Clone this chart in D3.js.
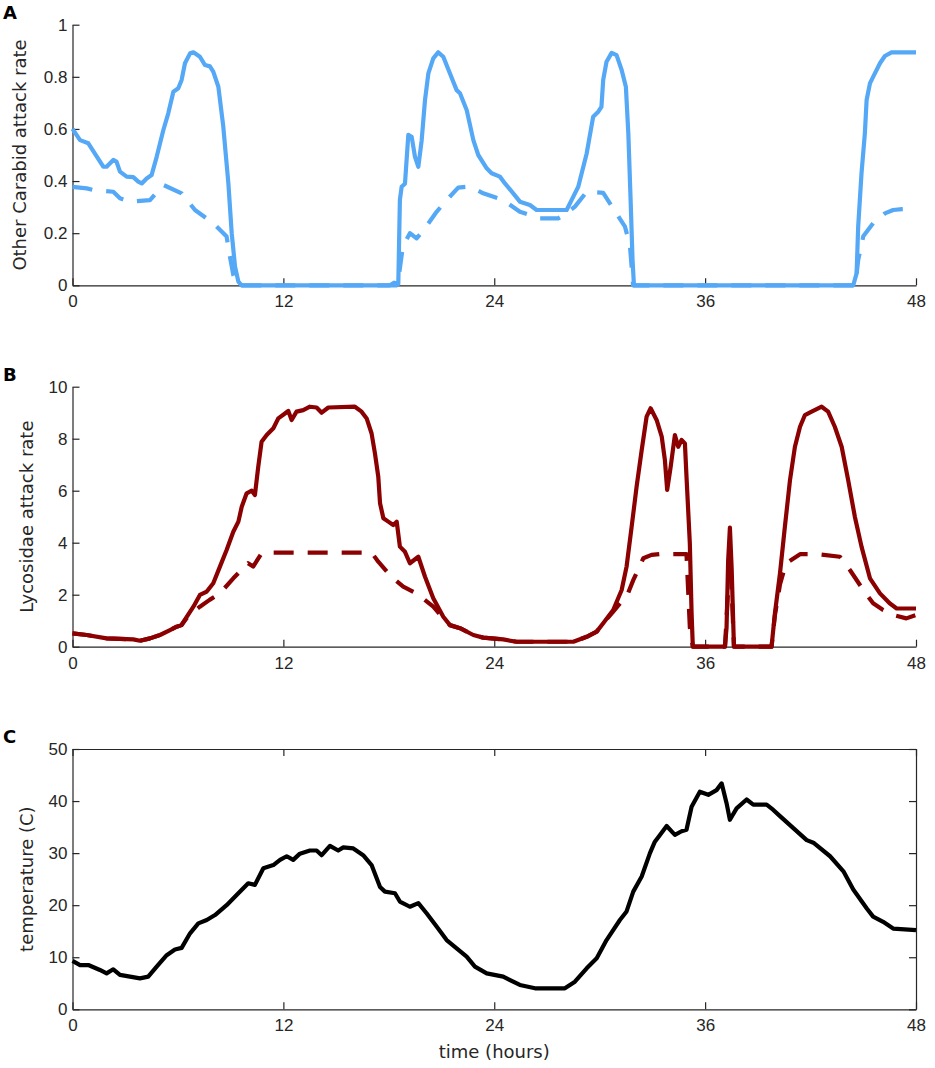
<!DOCTYPE html>
<html>
<head>
<meta charset="utf-8">
<script src="https://cdn.jsdelivr.net/npm/d3@7"></script>
<style>
  body { margin: 0; background: #fff; }
  svg { font-family: "DejaVu Sans", sans-serif; }
</style>
</head>
<body>
<svg id="chart" width="935" height="1068"></svg>
<script>
// time axis (hours)
const hourTicks = [0, 12, 24, 36, 48];

// Panel A: other Carabid attack rate, [hour, rate]
const carabidSolid = [
  [0,0.60],[0.43,0.557],[0.9,0.545],[1.75,0.455],[1.94,0.455],[2.32,0.481],[2.5,0.475],[2.7,0.436],
  [3.08,0.417],[3.46,0.415],[3.74,0.398],[3.94,0.391],[4.22,0.41],[4.5,0.423],[4.79,0.493],[5.17,0.596],
  [5.45,0.66],[5.74,0.743],[6.02,0.756],[6.21,0.788],[6.4,0.852],[6.69,0.89],[6.88,0.894],[7.25,0.877],
  [7.54,0.845],[7.82,0.84],[8.01,0.82],[8.3,0.762],[8.58,0.609],[8.87,0.391],[9.06,0.2],[9.25,0.071],
  [9.44,0.014],[9.62,0],[18.06,0],[18.3,0.01],[18.54,0.005],[18.63,0.327],[18.73,0.378],[18.92,0.39],
  [19.11,0.577],[19.3,0.57],[19.49,0.493],[19.68,0.455],[19.87,0.557],[20.06,0.711],[20.25,0.813],
  [20.53,0.871],[20.81,0.894],[21.1,0.877],[21.48,0.813],[21.86,0.749],[22.05,0.737],[22.43,0.673],
  [22.81,0.557],[23.09,0.5],[23.57,0.449],[23.85,0.43],[24.32,0.417],[24.61,0.391],[25.08,0.353],
  [25.46,0.321],[26.03,0.308],[26.41,0.289],[28.12,0.289],[28.4,0.327],[28.78,0.378],[29.26,0.506],
  [29.63,0.647],[29.92,0.666],[30.1,0.685],[30.2,0.788],[30.39,0.858],[30.68,0.892],[30.96,0.883],
  [31.25,0.826],[31.49,0.762],[31.63,0.583],[31.76,0.327],[31.87,0.097],[31.95,0],[44.43,0],
  [44.62,0.046],[44.71,0.225],[44.9,0.43],[45.09,0.583],[45.19,0.711],[45.38,0.775],[45.56,0.8],
  [45.95,0.852],[46.23,0.88],[46.61,0.894],[48,0.894]
];
const carabidDashed = [
  [0,0.378],[0.81,0.372],[1.18,0.366],[2.32,0.359],[2.7,0.334],[3.27,0.321],[4.41,0.327],[5.17,0.385],
  [6.21,0.353],[6.97,0.289],[8.01,0.238],[8.77,0.187],[8.96,0.11],[9.15,0.04],[9.4,0],[18.5,0],
  [18.8,0.15],[19.2,0.2],[19.58,0.18],[19.96,0.21],[20.72,0.282],[21.29,0.327],[21.95,0.375],
  [22.43,0.378],[22.81,0.372],[23.37,0.353],[24.51,0.327],[25.46,0.282],[26.6,0.257],[27.64,0.257],
  [28.12,0.276],[28.59,0.302],[29.26,0.359],[30.2,0.355],[30.77,0.295],[31.44,0.225],[31.72,0.154],
  [31.9,0],[44.55,0],[44.71,0.097],[45.0,0.188],[45.56,0.238],[46.23,0.276],[46.7,0.289],[47.2,0.292],
  [48,0.295]
];

// Panel B: Lycosidae attack rate, [hour, rate]
const lycosidSolid = [
  [0,0.51],[0.81,0.45],[1.94,0.32],[3.46,0.28],[3.84,0.23],[4.41,0.32],[4.98,0.45],[5.55,0.64],
  [5.93,0.77],[6.2,0.83],[6.5,1.15],[6.88,1.54],[7.25,1.99],[7.64,2.12],[8.01,2.44],[8.39,3.08],
  [8.77,3.72],[9.15,4.42],[9.44,4.81],[9.63,5.38],[9.91,5.9],[10.2,6.0],[10.38,5.83],[10.57,6.92],
  [10.76,7.88],[11.05,8.14],[11.43,8.4],[11.71,8.78],[12.09,8.97],[12.28,9.07],[12.47,8.72],
  [12.75,9.04],[13.13,9.1],[13.51,9.23],[13.89,9.2],[14.18,9.0],[14.56,9.2],[16.07,9.23],[16.45,9.04],
  [16.74,8.78],[17.02,8.2],[17.21,7.44],[17.4,6.54],[17.5,5.52],[17.69,4.94],[17.97,4.81],[18.25,4.68],
  [18.45,4.81],[18.63,3.85],[18.92,3.65],[19.2,3.21],[19.68,3.46],[20.06,2.69],[20.53,1.86],[21.1,1.15],
  [21.48,0.83],[22.05,0.71],[22.81,0.45],[23.37,0.35],[24.51,0.28],[25.27,0.19],[28.5,0.19],
  [29.26,0.38],[29.83,0.58],[30.2,0.9],[30.77,1.41],[31.25,2.18],[31.53,3.08],[31.82,4.62],
  [32.1,6.15],[32.39,7.56],[32.67,8.85],[32.9,9.17],[33.24,8.72],[33.53,8.08],[33.71,7.18],
  [33.84,6.03],[34.04,6.92],[34.28,8.14],[34.47,7.69],[34.66,7.95],[34.85,7.82],[34.94,6.54],
  [35.13,3.97],[35.23,1.28],[35.3,0],[37.13,0],[37.22,0.74],[37.31,3.3],[37.41,4.58],[37.51,3.0],
  [37.64,0],[39.78,0],[39.97,1.28],[40.26,2.82],[40.54,4.62],[40.83,6.41],[41.11,7.69],[41.4,8.46],
  [41.68,8.91],[42.06,9.04],[42.63,9.23],[43.0,9.04],[43.38,8.46],[43.77,7.69],[44.14,6.41],[44.52,5.0],
  [44.9,3.85],[45.38,2.63],[45.95,2.05],[46.5,1.67],[46.9,1.47],[48,1.47]
];
const lycosidDashed = [
  [0,0.51],[0.81,0.45],[1.94,0.32],[3.46,0.28],[3.84,0.23],[4.41,0.32],[4.98,0.45],[5.55,0.64],
  [5.93,0.77],[6.2,0.83],[6.5,1.1],[6.88,1.35],[7.25,1.54],[7.8,1.8],[8.39,2.05],[9.15,2.63],
  [9.99,3.21],[10.28,3.08],[10.76,3.59],[11.2,3.62],[17.02,3.62],[17.4,3.27],[18.15,2.69],[18.82,2.31],
  [19.58,2.05],[20.53,1.54],[21.1,1.1],[21.48,0.83],[22.05,0.71],[22.81,0.45],[23.37,0.35],[24.51,0.28],
  [25.27,0.19],[28.5,0.19],[29.26,0.38],[29.83,0.58],[30.2,0.9],[30.77,1.35],[31.2,1.7],[31.53,1.92],
  [31.91,2.56],[32.48,3.4],[32.95,3.53],[33.4,3.56],[34.94,3.56],[35.13,0.74],[35.3,0],[37.13,0],
  [37.31,2.2],[37.41,3.4],[37.51,2.2],[37.64,0],[39.78,0],[39.97,1.2],[40.26,2.4],[40.6,3.2],
  [41.4,3.56],[42.35,3.56],[43.67,3.46],[44.24,2.95],[45.0,2.18],[45.56,1.67],[46.13,1.41],[46.7,1.22],
  [47.45,1.09],[48,1.22]
];

// Panel C: temperature (C), [hour, temp]
const temperature = [
  [0,9.3],[0.43,8.5],[0.9,8.5],[1.56,7.55],[1.94,6.9],[2.32,7.68],[2.7,6.6],[3.27,6.27],[3.84,5.95],
  [4.31,6.27],[4.79,8.2],[5.36,10.4],[5.83,11.5],[6.21,11.8],[6.69,14.6],[7.16,16.5],[7.64,17.15],
  [8.11,18.1],[8.77,20.0],[9.34,21.95],[10.0,24.2],[10.38,23.9],[10.86,27.1],[11.43,27.7],[11.81,28.7],
  [12.19,29.4],[12.56,28.7],[12.94,29.9],[13.51,30.5],[13.89,30.5],[14.18,29.6],[14.65,31.4],
  [15.12,30.5],[15.41,31.1],[15.98,30.9],[16.54,29.6],[17.02,27.7],[17.5,23.5],[17.78,22.6],
  [18.35,22.3],[18.63,20.7],[19.2,19.7],[19.68,20.4],[20.16,18.4],[20.72,15.9],[21.29,13.3],
  [21.86,11.7],[22.43,10.1],[22.9,8.2],[23.57,6.9],[24.51,6.27],[25.46,4.67],[26.32,4.03],[28.02,4.03],
  [28.59,5.3],[29.26,7.87],[29.83,9.8],[30.39,13.3],[31.15,17.15],[31.53,18.8],[31.91,22.6],
  [32.39,25.5],[32.86,30.0],[33.14,32.2],[33.43,33.5],[33.81,35.2],[34.28,33.5],[34.66,34.2],
  [34.94,34.5],[35.23,38.9],[35.7,41.8],[36.18,41.2],[36.65,42.1],[36.94,43.4],[37.22,39.6],
  [37.41,36.4],[37.79,38.6],[38.36,40.3],[38.74,39.3],[39.5,39.3],[39.88,38.3],[40.26,37.1],
  [41.02,34.8],[41.78,32.5],[42.16,32.0],[43.11,29.4],[43.87,26.5],[44.43,23.0],[45.19,19.4],
  [45.56,17.8],[46.13,16.8],[46.7,15.5],[48,15.2]
];

const carabidTicks = [0, 0.2, 0.4, 0.6, 0.8, 1];
const lycosidTicks = [0, 2, 4, 6, 8, 10];
const tempTicks = [0, 10, 20, 30, 40, 50];

const svg = d3.select("#chart");
const axisColor = "#262626";
const tickLen = 7;

const x = d3.scaleLinear().domain([0, 48]).range([72.5, 916]);

function drawPanel(p) {
  const y = d3.scaleLinear().domain(p.domain).range([p.bottom, p.top]);
  const g = svg.append("g");

  g.append("g")
    .attr("transform", `translate(0,${p.bottom})`)
    .call(d3.axisBottom(x).tickValues(hourTicks).tickSizeInner(-tickLen).tickSizeOuter(0).tickPadding(10));
  g.append("g")
    .attr("transform", `translate(${x(0)},0)`)
    .call(d3.axisLeft(y).tickValues(p.ticks).tickSizeInner(-tickLen).tickSizeOuter(0).tickPadding(5)
      .tickFormat(d3.format("")));

  if (p.box) {
    g.append("g")
      .attr("transform", `translate(0,${p.top})`)
      .call(d3.axisTop(x).tickValues(hourTicks).tickSizeInner(-tickLen).tickSizeOuter(0).tickFormat(""));
    g.append("g")
      .attr("transform", `translate(${x(48)},0)`)
      .call(d3.axisRight(y).tickValues(p.ticks).tickSizeInner(-tickLen).tickSizeOuter(0).tickFormat(""));
  }

  g.selectAll(".domain").attr("stroke", axisColor).attr("stroke-width", 1.2);
  g.selectAll(".tick line").attr("stroke", axisColor).attr("stroke-width", 1.2);
  g.selectAll(".tick text").attr("fill", axisColor).style("font-size", "17px");

  const line = d3.line().x(d => x(d[0])).y(d => y(d[1]));
  p.series.forEach(s => {
    g.append("path")
      .datum(s.data)
      .attr("fill", "none")
      .attr("stroke", p.color)
      .attr("stroke-width", 4.2)
      .attr("stroke-linejoin", "round")
      .attr("stroke-dasharray", s.dashed ? "20,14" : null)
      .attr("d", line);
  });

  // y-axis label
  g.append("text")
    .attr("transform", `translate(${p.labelX},${(p.top + p.bottom) / 2}) rotate(-90)`)
    .attr("text-anchor", "middle")
    .attr("dominant-baseline", "middle")
    .attr("fill", axisColor)
    .style("font-size", "18px")
    .text(p.label);

  // panel letter
  svg.append("text")
    .attr("x", 3).attr("y", p.top - 6)
    .style("font-size", "18px").style("font-weight", "bold")
    .text(p.letter);
}

drawPanel({
  letter: "A", top: 24.7, bottom: 285.3, domain: [0, 1], ticks: carabidTicks,
  color: "#55a8f6", label: "Other Carabid attack rate", labelX: 21,
  series: [{ data: carabidDashed, dashed: true }, { data: carabidSolid }]
});
drawPanel({
  letter: "B", top: 386.7, bottom: 646.7, domain: [0, 10], ticks: lycosidTicks,
  color: "#8b0000", label: "Lycosidae attack rate", labelX: 28,
  series: [{ data: lycosidDashed, dashed: true }, { data: lycosidSolid }]
});
drawPanel({
  letter: "C", top: 749, bottom: 1009.3, domain: [0, 50], ticks: tempTicks,
  color: "#000000", label: "temperature (C)", labelX: 28, box: true,
  series: [{ data: temperature }]
});

svg.append("text")
  .attr("x", x(24)).attr("y", 1053)
  .attr("text-anchor", "middle")
  .attr("dominant-baseline", "middle")
  .attr("fill", axisColor)
  .style("font-size", "18px")
  .text("time (hours)");
</script>
</body>
</html>
